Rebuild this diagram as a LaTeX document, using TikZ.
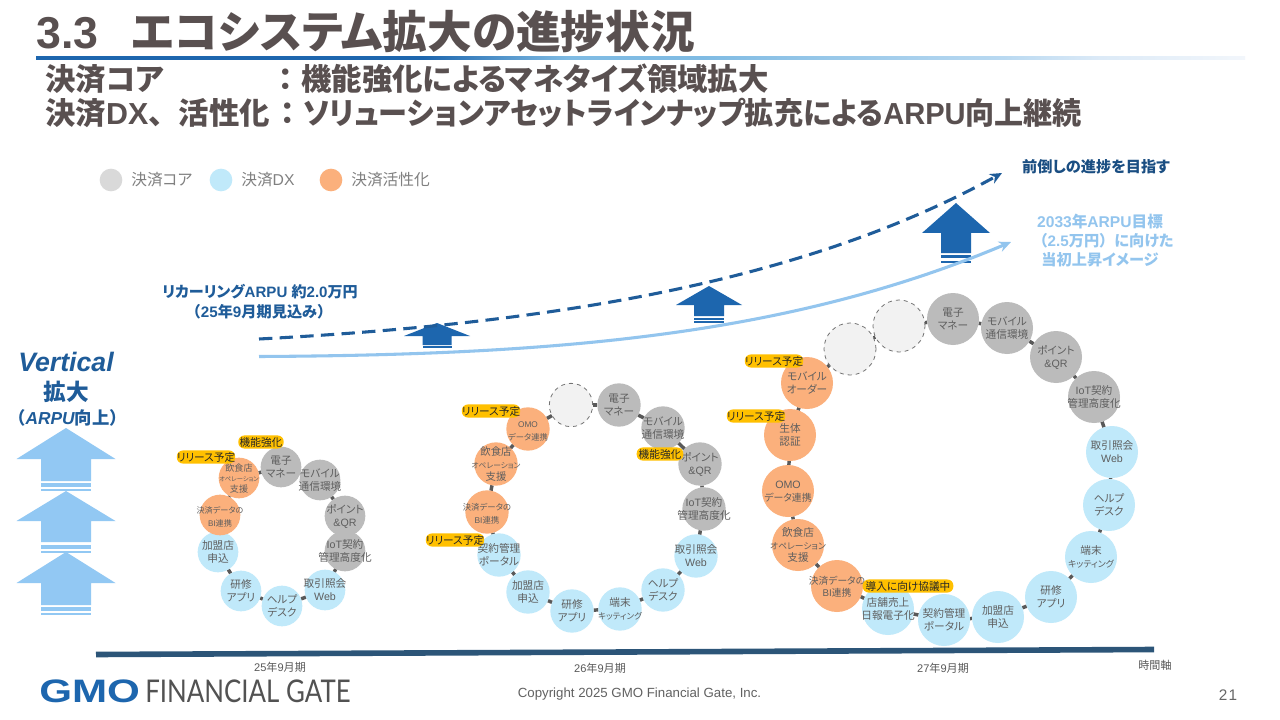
\documentclass[tikz,border=0pt]{standalone}
\usepackage{fontspec}
\usetikzlibrary{arrows.meta,backgrounds,calc}
\setmainfont[RawFeature=+palt]{Noto Sans CJK JP}
\newfontfamily\libfam{Liberation Sans}
\newfontfamily\latofam{Lato}
\newfontfamily\fullw{Noto Sans CJK JP}
\newcommand\la[1]{{\libfam #1}}
\newcommand\fw[1]{{\fullw #1}}
\newcommand\fz[1]{\fontsize{#1}{#1}\selectfont}
\newcommand\sm[2]{{\fontsize{#1}{9.5}\selectfont #2}}
\newcommand\mk[1]{\makebox[0pt][c]{\raisebox{-3.1pt}[0pt][0pt]{\begin{tabular}{@{}c@{}}#1\end{tabular}}}}
\definecolor{coreC}{HTML}{BBBBBB}
\definecolor{dxC}{HTML}{C0E9FA}
\definecolor{actC}{HTML}{FBB07C}
\definecolor{txtC}{HTML}{5E5E5E}
\definecolor{headC}{HTML}{595050}
\definecolor{deepC}{HTML}{1F5C99}
\definecolor{arrC}{HTML}{1D66AE}
\definecolor{skyC}{HTML}{92C8F3}
\definecolor{labC}{HTML}{93C5EE}
\definecolor{tagC}{HTML}{FFC000}
\definecolor{axisC}{HTML}{2C5578}
\definecolor{stubC}{HTML}{595959}
\definecolor{barA}{HTML}{7FBBE3}
\definecolor{barB}{HTML}{B9D9F1}
\definecolor{barC}{HTML}{DCEAF7}
\definecolor{barD}{HTML}{F2F6FB}
\pgfdeclarehorizontalshading{titlebar}{100bp}{
  color(0bp)=(arrC); color(41bp)=(arrC); color(47bp)=(barA); color(52.5bp)=(barA); color(65bp)=(barB); color(69bp)=(barC); color(75bp)=(barD); color(100bp)=(barD)}
\tikzset{
  x=0.75pt,y=-0.75pt,
  ring/.style={circle,inner sep=0pt,outer sep=0pt,align=center,text=txtC,font=\fontsize{8}{9.5}\selectfont},
  coreN/.style={ring,fill=coreC},
  dxN/.style={ring,fill=dxC},
  actN/.style={ring,fill=actC},
  slotN/.style={ring,fill=black!5,draw=black!55,dashed,line width=0.6pt},
  ra/.style={minimum size=30.5pt},
  rb/.style={minimum size=32.5pt},
  rc/.style={minimum size=39pt},
  tagN/.style={rounded corners=4.5pt,fill=tagC,inner sep=0pt,text=black!85,font=\fontsize{8}{8}\selectfont,minimum height=9.8pt,anchor=center},
  stub/.style={draw=stubC,line width=2.6pt},
  legendDot/.style={circle,inner sep=0pt,minimum size=17pt},
  legendT/.style={anchor=west,text=black!50,font=\fontsize{11.8}{11.8}\selectfont,inner sep=0pt},
  axisT/.style={text=black!65,font=\fontsize{8.3}{8.3}\selectfont,inner sep=0pt},
}
\newcommand\blk[6]{\fill (#1,#2) -- (#1+#4,#3) -- (#1+#5,#3) -- (#1+#5,#6) -- (#1-#5,#6) -- (#1-#5,#3) -- (#1-#4,#3) -- cycle;}
\newcommand\strp[4]{\fill (#1-#2,#3) rectangle (#1+#2,#4);}
\begin{document}
\begin{tikzpicture}
\useasboundingbox (0,0) rectangle (1280,720);
\begin{scope}[on background layer]
\fill[white] (0,0) rectangle (1280,720);
\end{scope}

% heading
\node[anchor=west,inner sep=0pt,text=headC,font=\bfseries\fz{33.5}] (title) at (36,32) {\la{3.3}\hspace{25pt}エコシステム拡大の進捗状況};
\shade[shading=titlebar] (36,56.5) rectangle (1245,59.5);
\node[anchor=west,inner sep=0pt,text=headC,font=\bfseries\fz{22.8}] (subA) at (45,79) {決済コア\hspace{80pt}\fw{：}機能強化によるマネタイズ領域拡大};
\node[anchor=west,inner sep=0pt,text=headC,font=\bfseries\fz{22.8}] (subB) at (45,113) {決済\la{DX}\fw{、}活性化\hspace{2pt}\fw{：}\scalebox{0.957}[1]{ソリューションアセットラインナップ拡充による\la{ARPU}向上継続}};

% legend
\node[legendDot,fill=black!15] (lgA) at (111,180) {};
\node[legendT] (lgAt) at (131,180) {決済コア};
\node[legendDot,fill=dxC] (lgB) at (221,180) {};
\node[legendT] (lgBt) at (241,180) {決済\la{DX}};
\node[legendDot,fill=actC] (lgC) at (331,180) {};
\node[legendT] (lgCt) at (351,180) {決済活性化};

% left banner
\node[inner sep=0pt,text=deepC,font=\bfseries\itshape\libfam\fz{20}] (vt) at (66,362) {Vertical};
\node[inner sep=0pt,text=deepC,font=\bfseries\fz{17}] (vk) at (66,392) {拡大};
\node[inner sep=0pt,text=deepC,font=\bfseries\fz{13}] (va) at (67.5,418) {\fw{（}{\libfam\itshape ARPU}向上\fw{）}};
\begin{scope}[fill=skyC]
\blk{66}{428}{459}{49.5}{25}{481}\strp{66}{25}{482.7}{486.7}\strp{66}{25}{488.7}{490.7}
\blk{66}{491}{521}{49.5}{25}{542}\strp{66}{25}{545}{549}\strp{66}{25}{551}{553}
\blk{66}{552}{583}{49.5}{25}{605}\strp{66}{25}{607}{611}\strp{66}{25}{613}{615}
\end{scope}

% block arrows
\begin{scope}[fill=arrC]
\blk{956}{203}{233}{34}{15}{253}\strp{956}{15}{255}{258}\strp{956}{15}{261}{263}
\blk{709}{286}{305}{33}{15}{316}\strp{709}{15}{317.5}{319.5}\strp{709}{15}{321}{322.5}
\blk{437}{323}{336}{33}{14.5}{345}\strp{437}{14.5}{346}{348}
\end{scope}

% curves
\coordinate (dashS) at (259,339);
\coordinate (dashE) at (1002,173);
\coordinate (lineS) at (259,356.5);
\coordinate (lineE) at (1011,242);
\draw[labC,line width=2.3pt,-{Stealth[length=9pt,width=8pt]}] (lineS) .. controls (560,355) and (790,335) .. (lineE);
\draw[deepC,line width=2.3pt,dash pattern=on 10pt off 5.5pt,-{Stealth[length=9pt,width=8pt]}] (dashS) .. controls (520,325) and (790,290) .. (dashE);

\node[inner sep=0pt,text=deepC,font=\bfseries\fz{11.3}] (recA) at (260,292) {リカーリング\la{ARPU }約\la{2.0}万円};
\node[inner sep=0pt,text=deepC,font=\bfseries\fz{11.4}] (recB) at (259,312) {\fw{（}\la{25}年\la{9}月期見込み\fw{）}};
\node[inner sep=0pt,text=deepC!85!black,font=\bfseries\fz{11.4}] (goal) at (1096,167) {前倒しの進捗を目指す};
\node[inner sep=0pt,text=labC,font=\bfseries\fz{11.7}] (tgA) at (1100,222) {\la{2033}年\la{ARPU}目標};
\node[inner sep=0pt,text=labC,font=\bfseries\fz{11.4}] (tgB) at (1103,241) {\fw{（}\la{2.5}万円\fw{）}に向けた};
\node[inner sep=0pt,text=labC,font=\bfseries\fz{11.4}] (tgC) at (1100,260) {当初上昇イメージ};

% ring 1
\node[coreN,ra] (a1) at (281,467) {\mk{電子\\マネー}};
\node[coreN,ra] (a2) at (320,480) {\mk{モバイル\\通信環境}};
\node[coreN,ra] (a3) at (345,516) {\mk{ポイント\\\la{\&QR}}};
\node[coreN,ra] (a4) at (345,551) {\mk{\la{IoT}契約\\管理高度化}};
\node[dxN,ra] (a5) at (325,590) {\mk{取引照会\\\la{Web}}};
\node[dxN,ra] (a6) at (282,606) {\mk{ヘルプ\\デスク}};
\node[dxN,ra] (a7) at (241,591) {\mk{研修\\アプリ}};
\node[dxN,ra] (a8) at (218,552) {\mk{加盟店\\申込}};
\node[actN,ra,font=\fontsize{6.1}{9.5}\selectfont] (a9) at (220,515) {\mk{決済データの\\\la{BI}連携}};
\node[actN,ra,font=\fontsize{6.8}{8}\selectfont] (a10) at (239,478) {\mk{飲食店\\{\fontsize{4.7}{8}\selectfont オペレーション}\\支援}};
\begin{scope}[on background layer]
\foreach \p/\q in {a1/a2,a2/a3,a3/a4,a4/a5,a5/a6,a6/a7,a7/a8,a8/a9,a9/a10,a10/a1}
  \draw[stub] (\p) -- (\q);
\end{scope}
\node[tagN,minimum width=43pt] (ta1) at (206,457) {リリース予定};
\node[tagN,minimum width=34pt] (ta2) at (261,442) {機能強化};

% ring 2
\node[slotN,rb] (b0) at (571,405) {};
\node[coreN,rb] (b1) at (619,405) {\mk{電子\\マネー}};
\node[coreN,rb] (b2) at (663,428) {\mk{モバイル\\通信環境}};
\node[coreN,rb] (b3) at (700,464) {\mk{ポイント\\\la{\&QR}}};
\node[coreN,rb] (b4) at (704,509) {\mk{\la{IoT}契約\\管理高度化}};
\node[dxN,rb] (b5) at (696,556) {\mk{取引照会\\\la{Web}}};
\node[dxN,rb] (b6) at (663,590) {\mk{ヘルプ\\デスク}};
\node[dxN,rb] (b7) at (620,609) {\mk{端末\\\sm{6.4}{キッティング}}};
\node[dxN,rb] (b8) at (572,611) {\mk{研修\\アプリ}};
\node[dxN,rb] (b9) at (528,592) {\mk{加盟店\\申込}};
\node[dxN,rb] (b10) at (499,555) {\mk{契約管理\\ポータル}};
\node[actN,rb,font=\fontsize{6.3}{9.5}\selectfont] (b11) at (487,512) {\mk{決済データの\\\la{BI}連携}};
\node[actN,rb,font=\fontsize{7.8}{9.5}\selectfont] (b12) at (496,464) {\mk{飲食店\\\sm{5.8}{オペレーション}\\支援}};
\node[actN,rb,font=\fontsize{6.2}{9.5}\selectfont] (b13) at (528,429) {\mk{\la{OMO}\\データ連携}};
\begin{scope}[on background layer]
\foreach \p/\q in {b0/b1,b1/b2,b2/b3,b3/b4,b4/b5,b5/b6,b6/b7,b7/b8,b8/b9,b9/b10,b10/b11,b11/b12,b12/b13,b13/b0}
  \draw[stub] (\p) -- (\q);
\end{scope}
\node[tagN,minimum width=43pt] (tb1) at (491,411) {リリース予定};
\node[tagN,minimum width=35pt] (tb2) at (660,454) {機能強化};
\node[tagN,minimum width=43pt] (tb3) at (455,540) {リリース予定};

% ring 3
\node[slotN,rc] (c0) at (850,349) {};
\node[slotN,rc] (c1) at (899,326) {};
\node[coreN,rc] (c2) at (953,319) {\mk{電子\\マネー}};
\node[coreN,rc] (c3) at (1007,328) {\mk{モバイル\\通信環境}};
\node[coreN,rc] (c4) at (1056,357) {\mk{ポイント\\\la{\&QR}}};
\node[coreN,rc] (c5) at (1094,397) {\mk{\la{IoT}契約\\管理高度化}};
\node[dxN,rc] (c6) at (1112,452) {\mk{取引照会\\\la{Web}}};
\node[dxN,rc] (c7) at (1109,505) {\mk{ヘルプ\\デスク}};
\node[dxN,rc] (c8) at (1091,557) {\mk{端末\\\sm{6.7}{キッティング}}};
\node[dxN,rc] (c9) at (1051,597) {\mk{研修\\アプリ}};
\node[dxN,rc] (c10) at (998,617) {\mk{加盟店\\申込}};
\node[dxN,rc] (c11) at (944,620) {\mk{契約管理\\ポータル}};
\node[dxN,rc] (c12) at (888,609) {\mk{店舗売上\\日報電子化}};
\node[actN,rc,font=\fontsize{7.3}{9.5}\selectfont] (c13) at (837,586) {\mk{決済データの\\\la{BI}連携}};
\node[actN,rc] (c14) at (798,545) {\mk{飲食店\\\sm{6.6}{オペレーション}\\支援}};
\node[actN,rc] (c15) at (788,491) {\mk{\la{OMO}\\\sm{7.4}{データ連携}}};
\node[actN,rc] (c16) at (790,435) {\mk{生体\\認証}};
\node[actN,rc] (c17) at (807,383) {\mk{モバイル\\オーダー}};
\begin{scope}[on background layer]
\foreach \p/\q in {c17/c0,c0/c1,c1/c2,c2/c3,c3/c4,c4/c5,c5/c6,c6/c7,c7/c8,c8/c9,c9/c10,c10/c11,c11/c12,c12/c13,c13/c14,c14/c15,c15/c16,c16/c17}
  \draw[stub] (\p) -- (\q);
\end{scope}
\node[tagN,minimum width=42pt] (tc1) at (774,361) {リリース予定};
\node[tagN,minimum width=42pt] (tc2) at (756,416) {リリース予定};
\node[tagN,minimum width=68pt] (tc3) at (908,586) {導入に向け協議中};

% axis
\coordinate (axL) at (96,654.5);
\coordinate (axR) at (1154,649.5);
\draw[axisC,line width=4.2pt] (axL) -- (axR);
\node[axisT] (t25) at (280,667) {\la{25}年\la{9}月期};
\node[axisT] (t26) at (600,668) {\la{26}年\la{9}月期};
\node[axisT] (t27) at (943,668) {\la{27}年\la{9}月期};
\node[axisT] (tax) at (1155,665) {時間軸};

% footer
\node[anchor=west,inner sep=0pt,text=arrC] (gmo) at (39,691) {\resizebox{75.5pt}{17pt}{\bfseries\libfam GMO}};
\node[anchor=west,inner sep=0pt,text=black!68] (fg) at (145,691) {\resizebox{154pt}{17pt}{\latofam FINANCIAL GATE}};
\node[inner sep=0pt,text=black!62,font=\libfam\fz{9.95}] (copy) at (639.5,694) {Copyright 2025 GMO Financial Gate, Inc.};
\node[inner sep=0pt,text=black!60,font=\libfam\fz{11.5}] (pg) at (1228,695) {2\hspace{1pt}1};
\end{tikzpicture}
\end{document}
